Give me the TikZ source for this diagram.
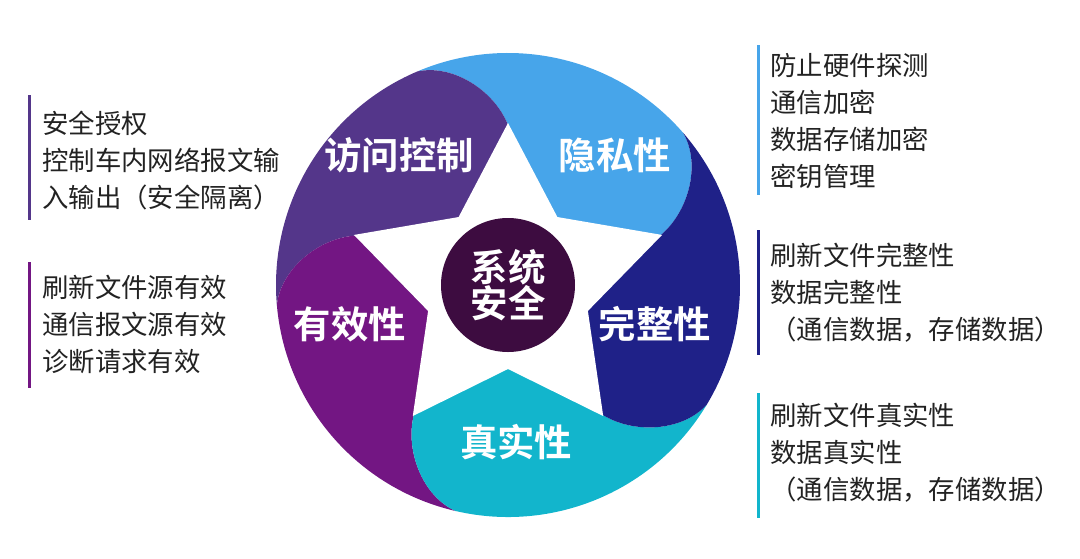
\documentclass[tikz,border=0pt]{standalone}
\usepackage{fontspec}
\setmainfont{Noto Sans CJK SC}
\newfontfamily\cjkbold{Noto Sans CJK SC Bold}
\usetikzlibrary{positioning}
\definecolor{cAccess}{HTML}{54368A}
\definecolor{cPrivacy}{HTML}{47A5EA}
\definecolor{cIntegrity}{HTML}{1F2188}
\definecolor{cAuthentic}{HTML}{12B5CC}
\definecolor{cValid}{HTML}{731683}
\definecolor{cCore}{HTML}{3D0C40}
\definecolor{cText}{HTML}{222222}
\tikzset{
    petal/.style={draw=none},
    petallabel/.style={text=white, font={\cjkbold\fontsize{18.7}{21}\selectfont}},
    infotext/.style={text=cText, align=left, anchor=north west, inner sep=0pt, font={\fontsize{13.2}{18.5}\selectfont}},
    bar/.style={line width=1.5pt}
}
\begin{document}
\begin{tikzpicture}[x=0.5pt, y=0.5pt]
    \useasboundingbox (-508,285) rectangle (572,-273);
    % petals, one per star tip
    \foreach \a/\col in {18/cPrivacy, 90/cAccess, 162/cValid, 234/cAuthentic, 306/cIntegrity} {
        \pgfmathsetmacro{\b}{\a+72}
        \fill[petal, \col] (0,0) -- (\a:160) .. controls (\a+4:195) and (\a+14:228) .. (\a+23:232)
            arc[start angle=\a+23, end angle=\b+23, radius=232]
            .. controls (\b+14:228) and (\b+4:195) .. (\b:160) -- cycle;
    }
    % white star
    \fill[white] (90:162) -- (126:84) -- (162:162) -- (198:84) -- (234:162) -- (270:84)
        -- (306:162) -- (342:84) -- (18:162) -- (54:84) -- cycle;
    \node[circle, fill=cCore, minimum size=67pt, inner sep=0pt, petallabel, align=center] (core) at (0,0) {系统\\[-3pt]安全};
    \node[petallabel] (access) at (130:169) {访问控制};
    \node[petallabel] (privacy) at (50.5:168) {隐私性};
    \node[petallabel] (integrity) at (-15:152) {完整性};
    \node[petallabel] (authentic) at (-87:157) {真实性};
    \node[petallabel] (valid) at (194:163) {有效性};

    % left notes
    \node[infotext] (noteAccess) at (-466,174) {安全授权\\控制车内网络报文输\\入输出（安全隔离）};
    \node[infotext] (noteValid) at (-466,10) {刷新文件源有效\\通信报文源有效\\诊断请求有效};
    \draw[bar, cAccess] (-478,190) -- (-478,65);
    \draw[bar, cValid] (-478,23) -- (-478,-103);
    % right notes
    \node[infotext] (notePrivacy) at (262,232) {防止硬件探测\\通信加密\\数据存储加密\\密钥管理};
    \node[infotext] (noteIntegrity) at (262,42) {刷新文件完整性\\数据完整性\\（通信数据，存储数据）};
    \node[infotext] (noteAuthentic) at (262,-118) {刷新文件真实性\\数据真实性\\（通信数据，存储数据）};
    \draw[bar, cPrivacy] (250,240) -- (250,90);
    \draw[bar, cIntegrity] (250,55) -- (250,-70);
    \draw[bar, cAuthentic] (250,-108) -- (250,-233);
\end{tikzpicture}
\end{document}
